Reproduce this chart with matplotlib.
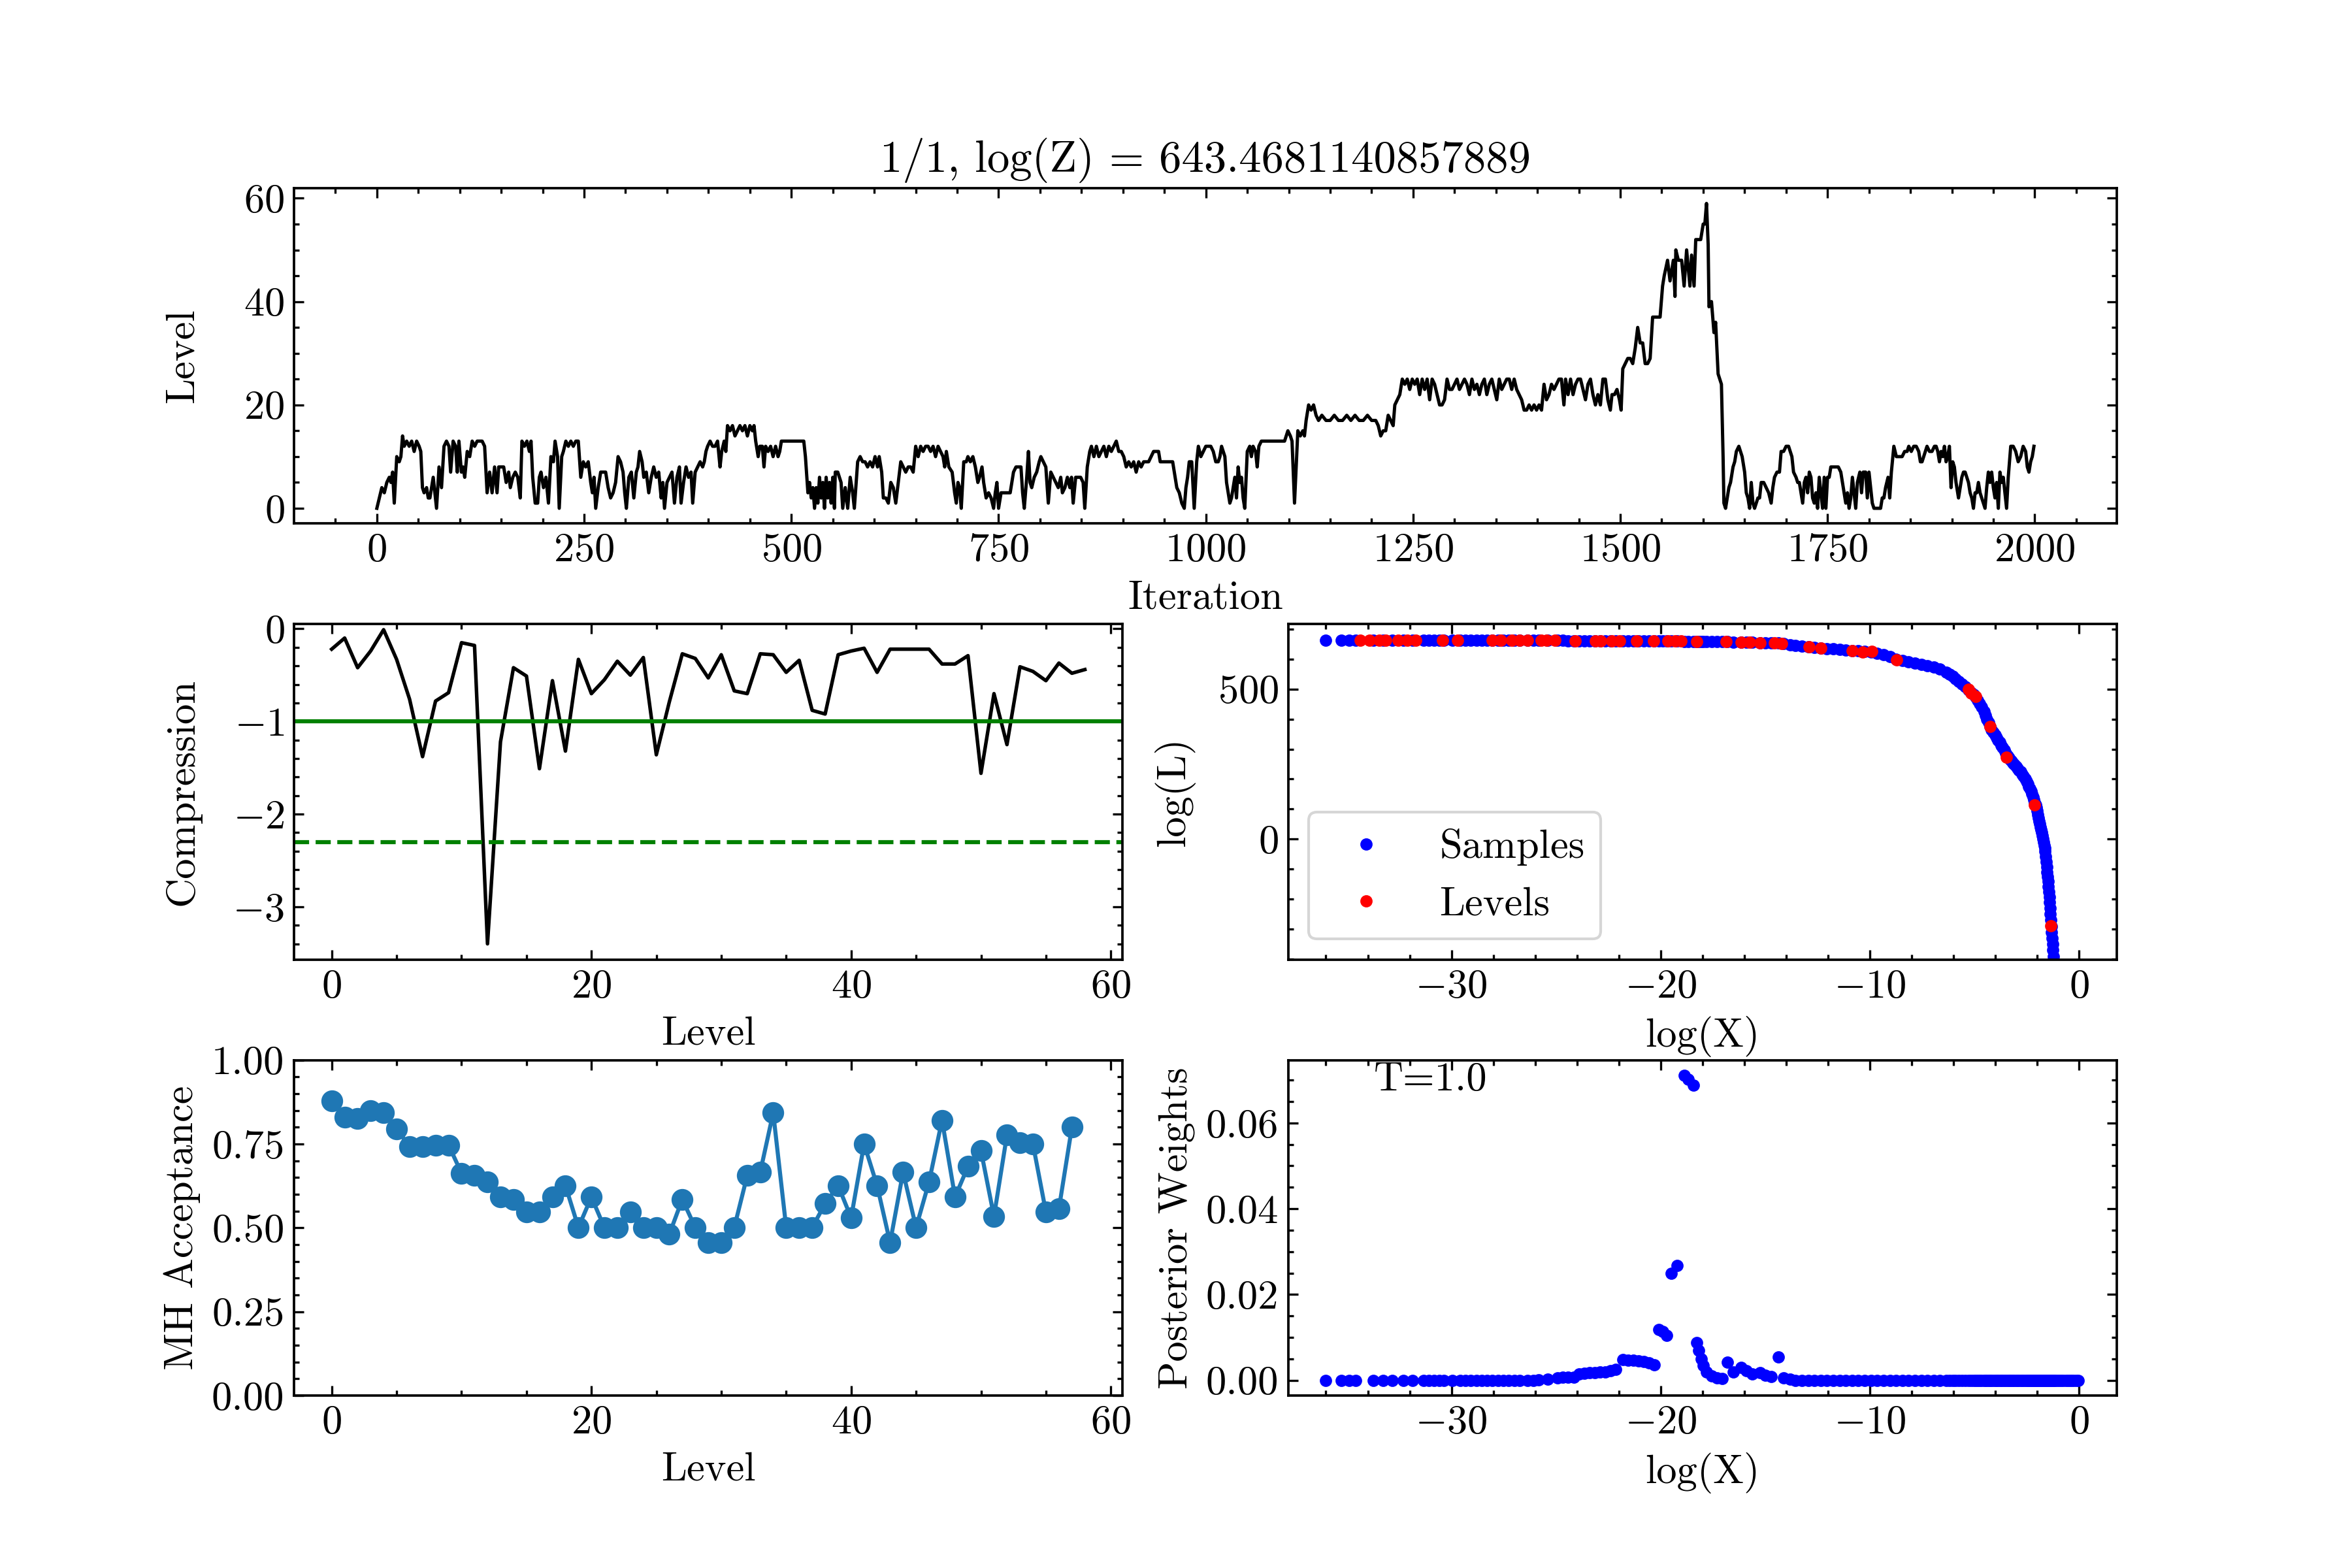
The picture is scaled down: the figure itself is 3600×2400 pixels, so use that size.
import matplotlib
matplotlib.use("Agg")
import matplotlib.pyplot as plt
from matplotlib.ticker import MultipleLocator, FormatStrFormatter
import numpy as np

plt.rcParams.update({
    "font.family": "serif",
    "font.serif": ["cmr10"],
    "mathtext.fontset": "cm",
    "axes.formatter.use_mathtext": True,
    "font.size": 15,
    "axes.titlesize": 16.5,
    "axes.labelsize": 15,
    "xtick.labelsize": 15,
    "ytick.labelsize": 15,
    "legend.fontsize": 15,
    "xtick.direction": "in",
    "ytick.direction": "in",
    "xtick.top": True,
    "ytick.right": True,
    "xtick.minor.visible": True,
    "ytick.minor.visible": True,
    "xtick.major.size": 3.5,
    "ytick.major.size": 3.5,
    "xtick.minor.size": 2.0,
    "ytick.minor.size": 2.0,
    "xtick.major.width": 0.8,
    "ytick.major.width": 0.8,
    "xtick.minor.width": 0.8,
    "ytick.minor.width": 0.8,
    "axes.linewidth": 0.9,
})

TITLE = "1/1, log(Z) = 643.4681140857889"

# ---------------- top: level trace (iteration, level) ----
TRACE = [
(0,0),(3,2),(6,4),(9,3),(12,5),(15,6),(17,5),(19,7),(21,1),(24,10),(27,9),(29,10),(31,14),(33,12),(36,13),(39,12),(42,13),(45,11),(48,13),(51,12),(53,11),(55,4),(57,3),(60,4),(62,2),(64,2),(66,4),(68,6),(70,3),(72,0),(75,8),(78,4),(81,12),(84,13),(87,12),(89,7),(92,13),(95,12),(97,7),(99,13),(102,7),(104,8),(106,6),(109,11),(112,10),(115,13),(118,12),(121,13),(124,13),(127,13),(130,12),(133,3),(136,7),(139,3),(142,8),(145,3),(147,8),(150,8),(153,8),(156,5),(159,7),(161,4),(164,6),(167,7),(170,6),(173,2),(175,13),(178,12),(181,13),(184,11),(186,13),(188,6),(191,1),(194,1),(196,6),(198,7),(201,4),(204,6),(207,1),(210,10),(213,9),(215,13),(218,10),(220,0),(223,10),(225,11),(228,13),(231,12),(234,13),(237,12),(240,13),(243,13),(246,6),(249,9),(252,8),(255,9),(258,5),(260,3),(262,6),(264,0),(267,4),(270,7),(273,7),(276,7),(279,4),(282,2),(285,3),(288,5),(291,10),(294,9),(297,7),(299,3),(301,0),(304,6),(307,7),(310,2),(313,7),(315,8),(317,11),(320,9),(322,6),(325,7),(328,3),(331,6),(334,8),(337,6),(340,7),(343,2),(345,5),(347,0),(350,5),(353,6),(356,7),(359,1),(362,6),(365,8),(367,1),(370,5),(373,8),(376,6),(379,7),(381,1),(384,7),(387,8),(390,9),(393,8),(395,9),(397,11),(399,12),(402,13),(405,12),(408,12),(411,13),(414,8),(416,11),(419,13),(421,11),(423,16),(426,15),(429,16),(432,14),(435,15),(438,16),(441,15),(444,16),(447,14),(450,16),(453,15),(455,16),(457,13),(460,10),(462,12),(465,12),(467,8),(469,12),(472,11),(475,12),(478,10),(481,12),(484,10),(486,11),(488,13),(495,13),(505,13),(515,13),(517,10),(520,3),(522,5),(524,2),(526,4),(528,0),(530,4),(532,1),(534,6),(536,2),(538,5),(540,0),(542,6),(544,2),(546,5),(548,1),(550,6),(552,0),(553,7),(556,7),(558,6),(560,5),(562,0),(565,4),(568,0),(571,6),(574,3),(576,0),(580,9),(583,10),(586,9),(589,9),(592,8),(595,9),(598,8),(601,10),(604,8),(606,10),(609,7),(611,2),(614,2),(617,1),(620,5),(623,4),(626,1),(629,5),(632,9),(635,8),(638,7),(641,8),(644,8),(647,7),(650,12),(653,10),(656,12),(659,11),(662,12),(665,12),(668,11),(671,12),(674,10),(677,12),(680,11),(683,10),(685,8),(687,11),(690,8),(694,7),(697,3),(699,1),(701,5),(703,4),(705,0),(708,9),(711,9),(713,10),(716,9),(719,10),(722,8),(725,5),(727,6),(730,8),(732,5),(735,2),(738,3),(741,2),(744,0),(746,3),(748,5),(750,0),(753,3),(756,3),(760,3),(764,3),(766,5),(768,7),(771,8),(774,8),(777,8),(779,3),(781,0),(784,6),(786,11),(788,5),(790,4),(793,6),(796,7),(799,9),(801,10),(804,9),(807,8),(810,1),(813,7),(816,6),(819,5),(822,4),(825,6),(827,3),(830,4),(833,6),(836,4),(838,6),(840,1),(843,6),(846,6),(849,6),(852,5),(854,0),(857,8),(860,11),(862,12),(865,10),(868,12),(871,10),(874,11),(877,12),(880,10),(883,12),(886,11),(889,12),(892,13),(895,11),(898,11),(901,10),(904,8),(907,9),(910,8),(913,9),(916,7),(919,9),(922,8),(925,9),(928,9),(931,9),(934,10),(937,11),(940,11),(943,11),(945,9),(950,9),(955,9),(960,9),(962,7),(965,4),(968,3),(971,1),(974,0),(976,4),(978,6),(980,9),(983,9),(985,3),(986,0),(989,9),(991,12),(994,10),(997,11),(1000,12),(1003,12),(1006,12),(1009,11),(1012,9),(1015,9),(1017,10),(1019,12),(1021,11),(1023,10),(1025,5),(1027,3),(1029,1),(1031,2),(1033,4),(1035,6),(1037,2),(1039,8),(1041,5),(1043,6),(1045,2),(1047,0),(1050,11),(1053,12),(1055,10),(1057,12),(1060,11),(1062,8),(1064,12),(1067,13),(1075,13),(1083,13),(1090,13),(1095,13),(1099,15),(1102,14),(1104,13),(1106,5),(1107,1),(1109,8),(1111,15),(1114,14),(1117,15),(1119,14),(1121,17),(1124,20),(1127,19),(1130,20),(1133,18),(1136,17),(1140,18),(1145,17),(1150,17),(1155,18),(1160,17),(1165,17),(1170,18),(1175,17),(1180,18),(1185,17),(1190,17),(1195,18),(1200,17),(1205,17),(1208,16),(1211,14),(1214,15),(1217,15),(1220,18),(1223,17),(1226,16),(1228,20),(1231,21),(1234,22),(1237,25),(1240,24),(1243,25),(1246,23),(1249,25),(1252,24),(1255,25),(1258,22),(1261,25),(1264,23),(1267,25),(1270,21),(1273,25),(1276,24),(1279,22),(1282,20),(1285,20),(1288,21),(1291,25),(1294,23),(1297,23),(1300,24),(1303,25),(1306,23),(1309,24),(1312,25),(1315,24),(1318,22),(1321,25),(1324,23),(1327,24),(1330,22),(1333,24),(1336,25),(1339,22),(1342,24),(1345,25),(1348,23),(1351,21),(1354,25),(1357,23),(1360,24),(1363,25),(1366,25),(1369,23),(1372,25),(1375,23),(1378,22),(1381,21),(1384,19),(1387,19),(1390,20),(1393,19),(1396,20),(1399,19),(1402,20),(1405,19),(1408,24),(1411,21),(1414,22),(1417,24),(1420,23),(1423,24),(1426,25),(1429,25),(1432,20),(1434,25),(1437,22),(1440,25),(1443,22),(1446,24),(1449,25),(1452,25),(1455,23),(1458,21),(1461,24),(1464,25),(1467,22),(1470,20),(1473,22),(1476,20),(1479,25),(1482,25),(1485,21),(1488,19),(1490,22),(1493,22),(1496,23),(1499,21),(1501,19),(1503,27),(1506,28),(1509,29),(1512,29),(1515,28),(1518,31),(1521,35),(1524,32),(1527,32),(1530,28),(1533,28),(1536,29),(1539,37),(1542,37),(1546,37),(1548,37),(1551,43),(1553,45),(1557,48),(1560,44),(1564,48),(1566,41),(1567,50),(1570,48),(1574,48),(1577,43),(1580,50),(1584,43),(1586,49),(1589,43),(1591,52),(1594,52),(1597,52),(1600,55),(1602,55),(1604,59),(1606,51),(1607,39),(1610,40),(1613,34),(1615,36),(1618,26),(1622,24),(1624,10),(1625,1),(1627,0),(1629,2),(1631,4),(1633,5),(1636,8),(1638,9),(1640,11),(1643,12),(1645,11),(1647,10),(1650,7),(1652,3),(1654,2),(1656,0),(1658,5),(1660,1),(1662,0),(1664,1),(1666,2),(1668,2),(1670,5),(1673,5),(1676,4),(1679,3),(1682,1),(1684,4),(1686,6),(1689,7),(1692,7),(1694,11),(1697,11),(1700,12),(1703,12),(1705,11),(1707,10),(1709,7),(1712,6),(1714,5),(1716,5),(1718,3),(1720,1),(1722,5),(1724,6),(1726,3),(1728,7),(1730,6),(1732,2),(1734,1),(1736,3),(1738,0),(1740,6),(1742,3),(1744,0),(1746,6),(1748,0),(1750,6),(1752,6),(1754,8),(1757,8),(1760,8),(1763,8),(1766,7),(1768,5),(1770,3),(1772,1),(1774,3),(1776,0),(1778,2),(1780,6),(1782,3),(1784,0),(1786,5),(1789,7),(1791,3),(1793,7),(1796,7),(1798,2),(1800,7),(1802,4),(1804,1),(1806,0),(1810,0),(1814,0),(1816,2),(1818,2),(1820,4),(1823,6),(1825,2),(1827,7),(1830,12),(1833,10),(1836,10),(1840,10),(1843,11),(1846,11),(1848,12),(1851,11),(1854,12),(1857,12),(1860,11),(1862,9),(1864,9),(1866,10),(1868,11),(1870,12),(1873,11),(1876,11),(1879,12),(1881,12),(1883,11),(1885,9),(1887,11),(1889,10),(1891,12),(1893,9),(1895,10),(1897,12),(1899,4),(1901,9),(1903,8),(1905,5),(1908,2),(1910,4),(1912,6),(1914,7),(1916,7),(1918,6),(1920,5),(1922,3),(1924,2),(1926,0),(1928,3),(1930,3),(1932,5),(1934,3),(1936,2),(1938,1),(1940,0),(1942,4),(1944,7),(1946,5),(1948,7),(1950,4),(1952,2),(1954,5),(1956,0),(1958,7),(1960,5),(1962,6),(1964,3),(1966,0),(1968,6),(1971,12),(1974,12),(1977,11),(1980,9),(1983,10),(1986,12),(1989,11),(1991,8),(1993,7),(1995,9),(1997,10),(1999,12),
]
trace_iter = [p[0] for p in TRACE]
trace_level = [p[1] for p in TRACE]

# ---------------- compression per level ----------------
compression = [-0.22,-0.10,-0.42,-0.24,-0.01,-0.33,-0.76,-1.38,-0.78,-0.69,
               -0.15,-0.18,-3.40,-1.22,-0.42,-0.51,-1.51,-0.56,-1.32,-0.33,
               -0.70,-0.55,-0.35,-0.50,-0.31,-1.36,-0.79,-0.27,-0.32,-0.53,
               -0.28,-0.67,-0.70,-0.27,-0.28,-0.47,-0.34,-0.88,-0.92,-0.28,
               -0.24,-0.21,-0.47,-0.22,-0.22,-0.22,-0.22,-0.38,-0.38,-0.29,
               -1.56,-0.70,-1.25,-0.41,-0.46,-0.56,-0.37,-0.48,-0.44]

# ---------------- MH acceptance per level ----------------
mh_accept = [0.878,0.829,0.826,0.849,0.844,0.795,0.743,0.743,0.747,0.747,
             0.663,0.657,0.637,0.592,0.585,0.547,0.547,0.592,0.626,0.501,
             0.592,0.501,0.501,0.547,0.501,0.501,0.481,0.585,0.501,0.456,
             0.456,0.501,0.656,0.666,0.843,0.501,0.501,0.501,0.572,0.626,
             0.530,0.750,0.626,0.456,0.666,0.501,0.637,0.821,0.592,0.683,
             0.730,0.534,0.777,0.753,0.750,0.547,0.557,0.800]

# ---------------- samples: log(X), log(L), posterior weight ----------------
SAMPLES = [
(-36.00,663.0,0.0),(-35.27,663.0,0.0),(-34.88,663.0,0.0),(-34.57,663.0,0.0),
(-33.72,662.9,0.0),(-33.26,662.9,0.0),(-32.82,662.8,0.0),(-32.30,662.8,0.0),
(-31.86,662.7,0.0),(-31.34,662.7,0.0),(-31.09,662.6,0.0),(-30.83,662.6,0.0),
(-30.57,662.5,0.0),(-30.36,662.5,0.0),(-29.97,662.4,0.0),(-29.59,662.4,0.0),
(-29.33,662.3,0.0),(-29.07,662.3,0.0),(-28.81,662.2,0.0),(-28.55,662.2,0.0),
(-28.29,662.1,0.0),(-28.04,662.1,0.0),(-27.78,662.0,0.0),(-27.52,662.0,0.0),
(-27.26,661.9,0.0),(-27.00,661.9,0.0),(-26.74,661.8,0.0),(-26.36,661.7,0.0),
(-26.10,661.7,0.0),(-25.84,661.6,0.0001),(-25.40,661.5,0.0002),(-24.94,661.4,0.0006),
(-24.68,661.3,0.0007),(-24.42,661.2,0.0007),(-24.16,661.1,0.0007),(-23.90,661.0,0.0015),
(-23.65,660.9,0.0017),(-23.40,660.8,0.0018),(-23.15,660.7,0.0018),(-22.90,660.6,0.0019),
(-22.65,660.5,0.0020),(-22.40,660.4,0.0022),(-22.15,660.3,0.0026),(-21.80,660.2,0.0049),
(-21.55,660.1,0.0047),(-21.30,660.0,0.0046),(-21.05,659.9,0.0045),(-20.80,659.8,0.0043),
(-20.55,659.7,0.0040),(-20.30,659.6,0.0036),(-20.10,659.5,0.0118),(-19.90,659.4,0.0113),
(-19.70,659.3,0.0105),(-19.50,659.2,0.0250),(-19.20,659.1,0.0267),(-18.86,659.0,0.0711),
(-18.68,658.9,0.0702),(-18.42,658.7,0.0688),(-18.27,658.6,0.0088),(-18.17,658.5,0.0070),
(-18.06,658.4,0.0050),(-17.96,658.3,0.0035),(-17.80,658.1,0.0020),(-17.57,657.9,0.0010),
(-17.31,657.6,0.0005),(-17.05,657.3,0.0004),(-16.80,657.0,0.0042),(-16.54,656.6,0.0020),
(-16.15,656.0,0.0030),(-15.90,655.6,0.0022),(-15.63,655.2,0.0015),(-15.25,654.6,0.0018),
(-14.99,654.0,0.0012),(-14.73,653.4,0.0008),(-14.39,652.6,0.0054),(-14.13,651.5,0.0006),
(-13.82,648.0,0.0002),
(-13.55,645,0.0),(-13.25,642.5,0.0),(-12.95,640.5,0.0),(-12.65,638.5,0.0),(-12.35,637,0.0),
(-12.05,635,0.0),(-11.75,633,0.0),(-11.45,631,0.0),(-11.15,629.5,0.0),(-10.85,628,0.0),
(-10.55,627,0.0),(-10.25,625.5,0.0),(-9.95,623,0.0),(-9.65,619,0.0),(-9.35,614,0.0),
(-9.05,608,0.0),(-8.75,600,0.0),(-8.45,594,0.0),(-8.15,590,0.0),(-7.85,586,0.0),
(-7.55,582,0.0),(-7.25,578,0.0),(-6.95,573,0.0),(-6.65,566,0.0),(-6.35,556,0.0),
(-6.20,549,0.0),(-6.05,542,0.0),(-5.90,534,0.0),(-5.75,526,0.0),(-5.60,517,0.0),
(-5.45,508,0.0),(-5.30,498,0.0),(-5.15,489,0.0),(-5.05,481,0.0),
(-4.95,472,0.0),(-4.85,462,0.0),(-4.75,452,0.0),(-4.65,440,0.0),(-4.55,426,0.0),
(-4.47,413,0.0),(-4.40,400,0.0),(-4.33,388,0.0),(-4.26,376,0.0),(-4.18,365,0.0),
(-4.10,355,0.0),(-4.02,346,0.0),(-3.95,338,0.0),(-3.87,330,0.0),(-3.80,322,0.0),
(-3.72,313,0.0),(-3.65,305,0.0),(-3.57,296,0.0),(-3.50,286,0.0),(-3.42,278,0.0),
(-3.35,270,0.0),(-3.29,264,0.0),(-3.23,259,0.0),(-3.16,253,0.0),(-3.10,248,0.0),
(-3.02,242,0.0),(-2.95,236,0.0),(-2.87,230,0.0),(-2.80,224,0.0),(-2.72,217,0.0),
(-2.65,210,0.0),(-2.57,201,0.0),(-2.50,192,0.0),(-2.45,184,0.0),(-2.40,175,0.0),
(-2.35,168,0.0),(-2.30,160,0.0),(-2.25,150,0.0),(-2.20,140,0.0),(-2.16,131,0.0),
(-2.12,122,0.0),(-2.08,113,0.0),(-2.05,105,0.0),(-2.01,94,0.0),(-1.98,82,0.0),
(-1.95,71,0.0),(-1.92,60,0.0),(-1.89,50,0.0),(-1.86,40,0.0),(-1.83,31,0.0),
(-1.80,22,0.0),(-1.77,11,0.0),(-1.74,0,0.0),(-1.71,-10,0.0),(-1.68,-20,0.0),
(-1.65,-30,0.0),(-1.63,-41,0.0),(-1.60,-58,0.0),(-1.58,-75,0.0),(-1.55,-92,0.0),
(-1.53,-110,0.0),(-1.51,-125,0.0),(-1.49,-140,0.0),(-1.47,-158,0.0),(-1.45,-175,0.0),
(-1.43,-192,0.0),(-1.41,-210,0.0),(-1.39,-230,0.0),(-1.37,-250,0.0),(-1.35,-270,0.0),
(-1.33,-290,0.0),(-1.31,-310,0.0),(-1.29,-330,0.0),(-1.27,-350,0.0),(-1.25,-370,0.0),
(-1.23,-390,0.0),(-1.21,-410,0.0),
(-1.15,-460,0.0),(-1.05,-560,0.0),(-0.95,-690,0.0),(-0.85,-840,0.0),(-0.75,-1010,0.0),
(-0.65,-1200,0.0),(-0.55,-1420,0.0),(-0.45,-1700,0.0),(-0.35,-2000,0.0),
(-0.25,-2400,0.0),(-0.15,-2900,0.0),(-0.05,-3600,0.0),
]
sample_logx = [s[0] for s in SAMPLES]
sample_logl = [s[1] for s in SAMPLES]
sample_w = [s[2] for s in SAMPLES]

# ---------------- levels: log(X), log(L) ----------------
level_logx = [-34.37,-33.93,-33.46,-33.15,-32.56,-32.12,-31.71,-30.44,-29.72,-28.04,
              -27.65,-27.13,-26.74,-26.36,-25.71,-25.45,-25.06,-24.08,-23.13,-22.87,
              -22.35,-21.96,-21.14,-20.34,-19.64,-19.30,-19.04,-18.29,-16.87,-16.15,
              -15.76,-15.25,-14.55,-14.21,-12.92,-12.35,-10.85,-10.34,-9.90,-8.71,
              -5.30,-5.17,-4.96,-4.26,-3.49,-2.14,-1.34]
level_logl = [662.0,662.0,662.0,662.0,661.9,661.9,661.9,661.8,661.8,661.7,
              661.7,661.6,661.6,661.5,661.4,661.4,661.3,661.1,660.9,660.8,
              660.6,660.5,660.3,660.0,659.6,659.4,659.2,658.7,657.0,656.0,
              655.0,654.0,653.0,652.0,641.0,637.0,628.0,624.0,626.0,597.0,
              498.5,487.0,476.0,375.0,272.0,114.0,-289.0]

# ============================ figure ============================
fig = plt.figure(figsize=(12, 8), dpi=300)
gs = fig.add_gridspec(3, 2, left=0.125, right=0.9, top=0.88, bottom=0.11,
                      hspace=0.3, wspace=0.2)
ax_top = fig.add_subplot(gs[0, :])
ax_comp = fig.add_subplot(gs[1, 0])
ax_logl = fig.add_subplot(gs[1, 1])
ax_mh = fig.add_subplot(gs[2, 0])
ax_post = fig.add_subplot(gs[2, 1])

# top trace
ax_top.plot(trace_iter, trace_level, color="k", lw=1.2)
ax_top.set_xlabel("Iteration")
ax_top.set_ylabel("Level")
ax_top.set_title(TITLE)
ax_top.xaxis.set_major_locator(MultipleLocator(250))
ax_top.yaxis.set_major_locator(MultipleLocator(20))

# compression
ax_comp.plot(range(len(compression)), compression, color="k", lw=1.3)
ax_comp.axhline(-1.0, color="g", lw=1.5)
ax_comp.axhline(-np.log(10.0), color="g", lw=1.5, ls="--")
ax_comp.set_ylim(top=0.05)
ax_comp.set_xlabel("Level")
ax_comp.set_ylabel("Compression")
ax_comp.xaxis.set_major_locator(MultipleLocator(20))
ax_comp.yaxis.set_major_locator(MultipleLocator(1))
xlim_comp = ax_comp.get_xlim()

# MH acceptance
ax_mh.plot(range(len(mh_accept)), mh_accept, "o-", color="C0", ms=7, lw=1.5)
ax_mh.set_xlim(xlim_comp)
ax_mh.set_ylim(0.0, 1.0)
ax_mh.set_xlabel("Level")
ax_mh.set_ylabel("MH Acceptance")
ax_mh.xaxis.set_major_locator(MultipleLocator(20))
ax_mh.yaxis.set_major_locator(MultipleLocator(0.25))
ax_mh.yaxis.set_major_formatter(FormatStrFormatter("%.2f"))

# log(L) vs log(X)
ax_logl.plot(sample_logx, sample_logl, "b.", ms=7, label="Samples")
ax_logl.plot(level_logx, level_logl, "r.", ms=7, label="Levels")
ax_logl.set_ylim(-401, 716)
ax_logl.set_xlim(-37.8, 1.8)
ax_logl.legend(numpoints=1, loc="lower left")
ax_logl.set_xlabel("log(X)")
ax_logl.set_ylabel("log(L)")
ax_logl.xaxis.set_major_locator(MultipleLocator(10))
ax_logl.yaxis.set_major_locator(MultipleLocator(500))
xlim_logl = ax_logl.get_xlim()

# posterior weights
ax_post.plot(sample_logx, sample_w, "b.", ms=7)
ax_post.set_xlim(xlim_logl)
ax_post.set_xlabel("log(X)")
ax_post.set_ylabel("Posterior Weights")
ax_post.xaxis.set_major_locator(MultipleLocator(10))
ax_post.yaxis.set_major_locator(MultipleLocator(0.02))
ax_post.yaxis.set_major_formatter(FormatStrFormatter("%.2f"))
ax_post.text(0.103, 0.94, "T=1.0", transform=ax_post.transAxes,
             ha="left", va="center", fontsize=15)

fig.align_ylabels([ax_top, ax_comp, ax_mh])
fig.align_ylabels([ax_logl, ax_post])

fig.savefig("out.png", dpi=300)
